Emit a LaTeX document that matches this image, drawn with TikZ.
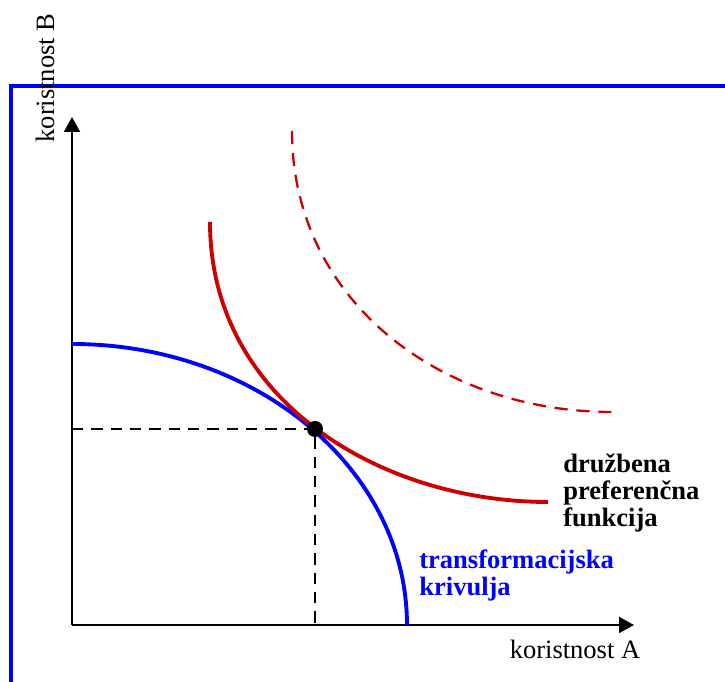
\documentclass[tikz,border=0pt]{standalone}
\usepackage{fontspec}
\setmainfont{Liberation Serif}
\usepackage{tikz}
\usetikzlibrary{arrows.meta}

\definecolor{prefred}{RGB}{204,0,0}

\begin{document}
\begin{tikzpicture}[
    x=0.02cm, y=0.02cm,
    axis/.style={line width=1.1pt, -{Triangle[length=0.3cm, width=0.32cm]}},
    guide/.style={line width=1pt, dash pattern=on 6.5pt off 4.5pt},
    tcurve/.style={blue, line width=2.2pt},
    pcurve/.style={prefred, line width=2.2pt},
    pnext/.style={prefred, line width=1.3pt, dash pattern=on 7.5pt off 5pt},
    lbl/.style={font=\fontsize{15.1}{15.6}\selectfont, inner sep=0pt},
    curvelbl/.style={lbl, font=\fontsize{15.1}{15.6}\selectfont\bfseries, align=left, anchor=north west}
  ]
    \useasboundingbox (-72,-57) rectangle (653,625);

    % frame
    \draw[blue, line width=2.3pt] (-61,-60) -- (-61,539) -- (656,539);

    % axes
    \coordinate (O) at (0,0);
    \coordinate (xtip) at (562,0);
    \coordinate (ytip) at (0,508);
    \draw[axis] (O) -- (xtip);
    \draw[axis] (O) -- (ytip);
    \node[lbl, rotate=90] (yl) at (-27,547) {koristnost B};
    \node[lbl, anchor=base] (xl) at (503,-34) {koristnost A};

    % curves
    \draw[tcurve] (0,281) arc[start angle=90, end angle=0, x radius=335, y radius=281];
    \draw[pcurve] (138,403) .. controls (138,225) and (308,123) .. (476,123);
    \draw[pnext] (220,494) .. controls (220,325) and (368,213) .. (540,213);

    % optimum
    \node[circle, fill=black, inner sep=0pt, minimum size=0.32cm] (E) at (243,196) {};
    \draw[guide] (0,196) -- (E.center) -- (243,0);

    % labels
    \node[curvelbl] (spf) at (491,172) {družbena\\preferenčna\\funkcija};
    \node[curvelbl, text=blue] (tk) at (347,76) {transformacijska\\krivulja};
\end{tikzpicture}
\end{document}
